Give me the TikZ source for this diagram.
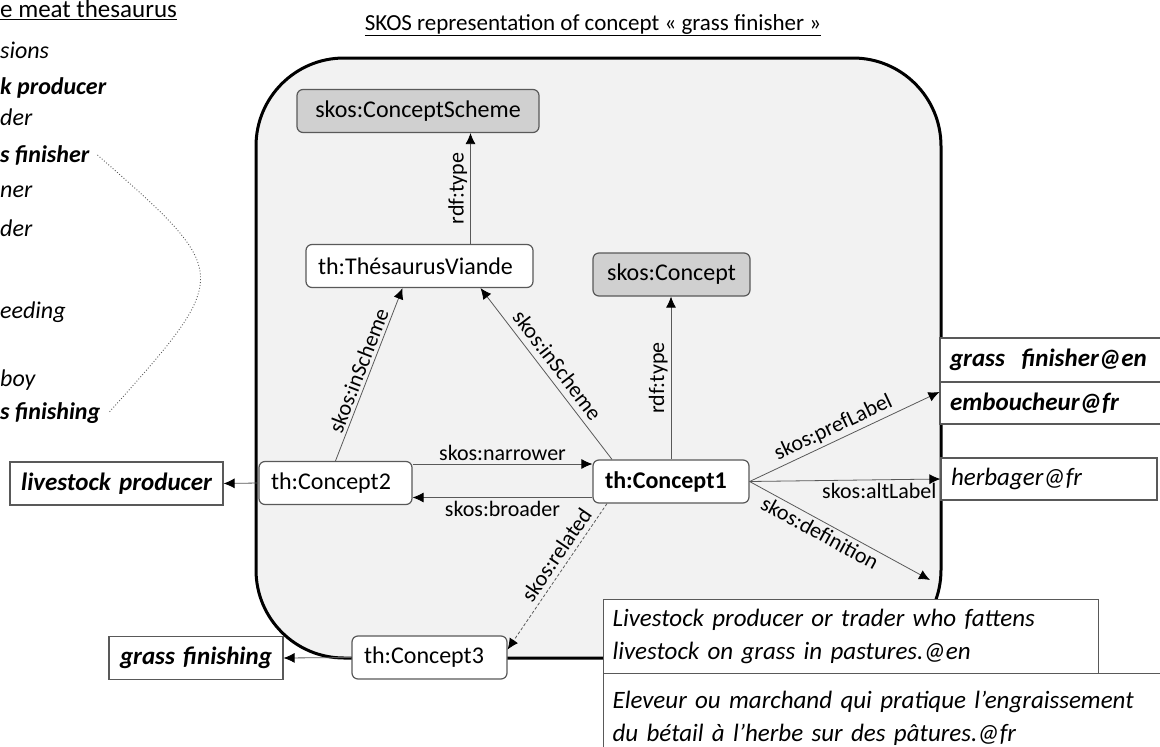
\documentclass[tikz,border=0pt]{standalone}
\usepackage{fontspec}
\setmainfont{Carlito}
\usetikzlibrary{arrows.meta}
\definecolor{SkosGrey}{HTML}{595959}
\definecolor{PanelFill}{HTML}{F2F2F2}
\definecolor{ClassFill}{HTML}{D0D0D0}
\tikzset{
  concept/.style={draw=SkosGrey,fill=white,rounded corners=6pt,line width=1.2pt,minimum height=43pt,inner xsep=12pt,text width=#1,align=left,font=\fontsize{24}{28}\selectfont},
  skosclass/.style={concept=#1,fill=ClassFill,align=center},
  literal/.style={draw=SkosGrey,fill=white,line width=1.2pt,minimum height=43pt,inner xsep=10pt,text width=#1,align=left,font=\fontsize{25}{29}\selectfont\bfseries\itshape},
  prop/.style={-{Latex[length=11pt,width=10pt,black]},SkosGrey,line width=0.8pt},
  plabel/.style={font=\fontsize{22}{26}\selectfont,text=black,inner sep=3pt},
  listitem/.style={anchor=west,inner sep=0pt,font=\fontsize{24}{28}\selectfont\itshape},
  keyitem/.style={listitem,font=\fontsize{24}{28}\selectfont\bfseries\itshape}
}

\begin{document}
\begin{tikzpicture}[x=1pt,y=-1pt]
  \clip (0,0) rectangle (1160,747);
  % thesaurus extract on the left
  \node[listitem,font=\fontsize{25}{29}\selectfont] (hdr) at (0,10) {\underline{e meat thesaurus}};
  \node[listitem] (sions) at (0,50) {sions};
  \node[keyitem] (kprod) at (0,88) {k producer};
  \node[listitem] (der1) at (0,117) {der};
  \node[keyitem] (sfin) at (0,155) {s finisher};
  \node[listitem] (ner) at (0,192) {ner};
  \node[listitem] (der2) at (0,228) {der};
  \node[listitem] (eeding) at (0,312) {eeding};
  \node[listitem] (boy) at (0,380) {boy};
  \node[keyitem] (sfing) at (0,413) {s finishing};
  \draw[SkosGrey,dotted,line width=0.9pt] ([xshift=8pt]sfin.east) .. controls (233,274) .. ([xshift=8pt]sfing.east);

  % SKOS graph
  \node[font=\fontsize{23}{28}\selectfont] (title) at (593,25) {\underline{SKOS representation of concept « grass finisher »}};
  \draw[line width=3pt,fill=PanelFill,rounded corners=88pt] (256,58) rectangle (941,658);

  \node[skosclass=218pt] (scheme) at (418,111) {skos:ConceptScheme};
  \node[concept=203pt] (thesaurus) at (419.5,266) {th:ThésaurusViande};
  \node[skosclass=133pt] (skosconcept) at (671.5,274.5) {skos:Concept};
  \node[concept=132pt,font=\fontsize{24}{28}\selectfont\bfseries] (c1) at (671,481.5) {th:Concept1};
  \node[concept=129pt] (c2) at (335.5,483) {th:Concept2};
  \node[concept=131pt] (c3) at (429.5,657.5) {th:Concept3};

  \node[literal=193pt,align=center] (lp) at (116.5,483.5) {livestock producer};
  \node[literal=154pt,align=center] (gfing) at (196,658) {grass finishing};
  \node[literal=210pt,minimum height=44pt] (prefen) at (1055,360) {grass~ finisher@en};
  \node[literal=210pt,minimum height=42pt] (preffr) at (1055,403) {emboucheur@fr};
  \node[literal=196pt,minimum height=42pt,font=\fontsize{25}{29}\selectfont\itshape] (alt) at (1049,479) {herbager@fr};
  \node[literal=477pt,anchor=north west,inner xsep=9pt,minimum height=74pt,font=\fontsize{25}{33}\selectfont\itshape] (defen) at (603,599) {Livestock producer or trader who fattens\\livestock on grass in pastures.@en};
  \node[literal=560pt,anchor=north west,inner xsep=9pt,minimum height=90pt,font=\fontsize{25}{33}\selectfont\itshape] (deffr) at (603,673) {Eleveur ou marchand qui pratique l’engraissement\\du bétail à l’herbe sur des pâtures.@fr};
  \coordinate (deftip) at (930,580);

  \draw[prop] ([xshift=51pt]thesaurus.north) -- ([xshift=51pt]thesaurus.north |- scheme.south) node[midway,sloped,above,plabel] {rdf:type};
  \draw[prop] (c2.north) -- ([xshift=-17pt]thesaurus.south) node[midway,sloped,above,plabel] {skos:inScheme};
  \draw[prop] ([xshift=-59pt]c1.north) -- ([xshift=61pt]thesaurus.south) node[midway,sloped,above=3pt,plabel] {skos:inScheme};
  \draw[prop] (c1.north) -- (c1.north |- skosconcept.south) node[midway,sloped,above,plabel] {rdf:type};
  \draw[prop] ([yshift=19pt]c2.east) -- ([yshift=19pt]c2.east -| c1.west) node[midway,above,plabel] {skos:narrower};
  \draw[prop] ([yshift=-16pt]c1.west) -- ([yshift=-16pt]c1.west -| c2.east) node[midway,below,plabel] {skos:broader};
  \draw[prop] (c2.west) -- (lp.east);
  \draw[prop] (c3.west) -- (gfing.east);
  \draw[prop,dash pattern=on 3pt off 2pt] ([xshift=-64pt]c1.south) -- ([yshift=8pt]c3.east) node[pos=.4,sloped,above=2pt,plabel] {skos:related};
  \draw[prop] (c1.east) -- ([yshift=11pt]preffr.west) node[pos=.47,sloped,above,plabel] {skos:prefLabel};
  \draw[prop] (c1.east) -- (alt.west) node[pos=.68,below,plabel] {skos:altLabel};
  \draw[prop] (c1.east) -- (deftip) node[pos=.42,sloped,below,plabel] {skos:definition};
\end{tikzpicture}
\end{document}
